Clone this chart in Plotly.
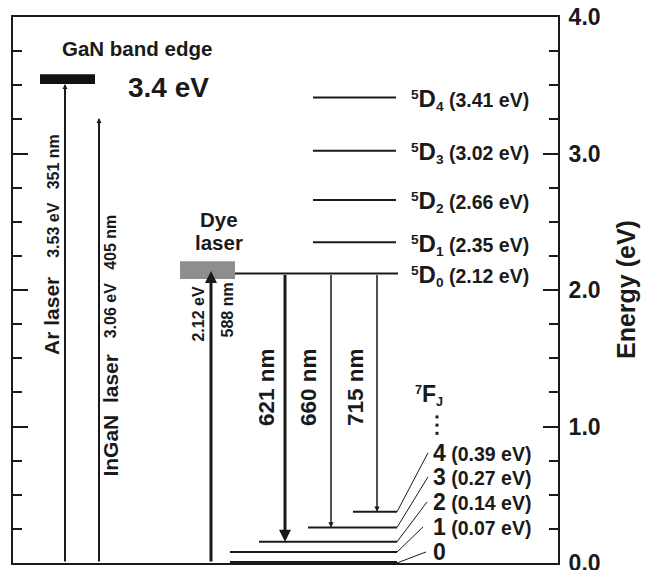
import plotly.graph_objects as go

FONT = "Liberation Sans, Arial, Helvetica, sans-serif"
INK = "#1a1a1a"

# ---------------- data ----------------
# energy axis (eV)
energy_ticks = [0, 1, 2, 3, 4]
energy_ticklabels = ["0.0", "1.0", "2.0", "3.0", "4.0"]

# 5D_J excited levels of Eu3+
d_j = ["4", "3", "2", "1", "0"]
d_energy = [3.41, 3.02, 2.66, 2.35, 2.12]
d_x0 = [313, 313, 313, 313, 235]
d_x1 = [396, 396, 396, 396, 398]

# 7F_J ground-multiplet levels
f_j = ["0", "1", "2", "3", "4"]
f_label_ev = ["", "0.07", "0.14", "0.27", "0.39"]
f_energy = [0.0, 0.08, 0.155, 0.26, 0.375]      # drawn heights
f_x0 = [230, 230, 259, 308, 353]
f_x1 = [397, 397, 397, 397, 397]
f_width = [4, 2, 2, 2, 2]
f_label_x = [426, 423, 427, 428, 428]
f_label_y = [0.081, 0.264, 0.447, 0.631, 0.807]

# GaN band edge bar
gan_x = [40, 95]
gan_e = [3.51, 3.58]

# dye laser box
dye_x = [180, 235]
dye_e = [2.08, 2.21]

# excitation lasers
laser_name = ["Ar", "InGaN", "Dye"]
laser_x = [65, 99, 211]
laser_top = [3.51, 3.26, 2.14]
laser_lw = [2, 2, 3]
laser_head = [0.5, 0.5, 0.8]

# emission transitions 5D0 -> 7F2,3,4
em_label = ["621 nm", "660 nm", "715 nm"]
em_x = [285, 331, 377]
em_to = [0.155, 0.26, 0.375]
em_lw = [3, 1.5, 1.5]
em_head = [0.8, 0.7, 0.7]
em_label_x = [267, 309, 356]
em_label_e = [1.29, 1.29, 1.29]

fig = go.Figure()

# 5D levels
for e, x0, x1 in zip(d_energy, d_x0, d_x1):
    fig.add_trace(go.Scatter(x=[x0, x1], y=[e, e], mode="lines",
                             line=dict(color=INK, width=2), hoverinfo="skip", showlegend=False))
# 7F levels
for e, x0, x1, w in zip(f_energy, f_x0, f_x1, f_width):
    fig.add_trace(go.Scatter(x=[x0, x1], y=[e, e], mode="lines",
                             line=dict(color=INK, width=w), hoverinfo="skip", showlegend=False))
# connector lines to 7F labels
cx, cy = [], []
for e, x1, lx, ly in zip(f_energy, f_x1, f_label_x, f_label_y):
    cx += [x1, lx, None]
    cy += [e, ly, None]
fig.add_trace(go.Scatter(x=cx, y=cy, mode="lines", line=dict(color=INK, width=1),
                         hoverinfo="skip", showlegend=False))
# vertical dots under 7F_J
fig.add_trace(go.Scatter(x=[437, 437, 437], y=[1.07, 1.01, 0.95], mode="markers",
                         marker=dict(symbol="square", size=3, color=INK),
                         hoverinfo="skip", showlegend=False))

# bars
fig.add_shape(type="rect", xref="x", yref="y", x0=gan_x[0], x1=gan_x[1], y0=gan_e[0], y1=gan_e[1],
              fillcolor="#111111", line=dict(width=0))
fig.add_shape(type="rect", xref="x", yref="y", x0=dye_x[0], x1=dye_x[1], y0=dye_e[0], y1=dye_e[1],
              fillcolor="#8e8e8e", line=dict(width=0))

ann = []
def arrow(x, y0, y1, lw, hs):
    ann.append(dict(x=x, y=y1, ax=x, ay=y0, xref="x", yref="y", axref="x", ayref="y",
                    text="", showarrow=True, arrowhead=2, arrowsize=hs, arrowwidth=lw,
                    arrowcolor=INK, standoff=0, startstandoff=0))

for x, top, lw, hs in zip(laser_x, laser_top, laser_lw, laser_head):
    arrow(x, 0, top, lw, hs)
for x, to, lw, hs in zip(em_x, em_to, em_lw, em_head):
    arrow(x, d_energy[-1], to, lw, hs)

def txt(x, y, s, size, angle=0, xanchor="center", yanchor="middle", yshift=0):
    ann.append(dict(x=x, y=y, xref="x", yref="y", text=s, showarrow=False,
                    textangle=angle, xanchor=xanchor, yanchor=yanchor, yshift=yshift,
                    font=dict(family=FONT, size=size, color=INK, weight="bold")))

txt(137, 3.77, "GaN band edge", 20.5)
txt(168, 3.48, "3.4 eV", 28)
txt(54, 2.69, "3.53 eV\u00a0\u00a0\u00a0351 nm", 16, angle=-90)
txt(52, 1.81, "Ar laser", 21, angle=-90)
txt(110, 2.10, "3.06 eV\u00a0\u00a0\u00a0405 nm", 16, angle=-90)
txt(111, 1.08, "InGaN\u00a0\u00a0laser", 21, angle=-90)
txt(219, 2.52, "Dye", 20.5)
txt(219, 2.35, "laser", 20.5)
txt(199, 1.82, "2.12 eV", 16, angle=-90)
txt(227, 1.85, "588 nm", 16, angle=-90)
for s, x, e in zip(em_label, em_label_x, em_label_e):
    txt(x, e, s, 22.5, angle=-90)

for j, e in zip(d_j, d_energy):
    txt(409, e, "<sup>5</sup><span style='font-size:24px'>D</span><sub>%s</sub> (%.2f eV)" % (j, e),
        19.5, xanchor="left", yshift=-2)

txt(413, 1.23, "<sup>7</sup><span style='font-size:23px'>F</span><sub>J</sub>", 18, xanchor="left")
for j, ev, lx, ly in zip(f_j, f_label_ev, f_label_x, f_label_y):
    s = "<span style='font-size:23px'>%s</span>" % j
    if ev:
        s += " (%s eV)" % ev
    txt(431, ly, s, 19.5, xanchor="left")

ann.append(dict(x=(626 - 13) / 545, y=0.5, xref="paper", yref="paper", text="Energy (eV)",
                showarrow=False, textangle=-90, xanchor="center", yanchor="middle",
                font=dict(family=FONT, size=25, color=INK, weight="bold")))

fig.update_layout(
    width=654, height=570,
    margin=dict(l=13, r=96, t=17, b=7),
    paper_bgcolor="white", plot_bgcolor="white",
    annotations=ann, showlegend=False,
    xaxis=dict(range=[13, 558], showgrid=False, zeroline=False, showticklabels=False,
               ticks="", showline=True, mirror=True, linecolor=INK, linewidth=2,
               fixedrange=True),
    yaxis=dict(range=[0, 4.0], side="right", showgrid=False, zeroline=False,
               showline=True, mirror="ticks", linecolor=INK, linewidth=2,
               ticks="inside", ticklen=15, tickwidth=2, tickcolor=INK,
               tickvals=energy_ticks, ticktext=energy_ticklabels, ticklabelstandoff=4,
               ticklabeloverflow="allow",
               tickfont=dict(family=FONT, size=23, color=INK, weight="bold"),
               minor=dict(dtick=0.25, ticks="inside", ticklen=9, tickwidth=2, tickcolor=INK,
                          showgrid=False),
               automargin=False, fixedrange=True),
)

fig.write_html("out.html")
